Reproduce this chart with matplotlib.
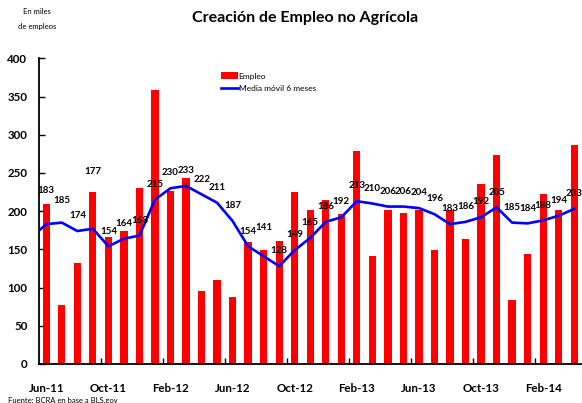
import numpy as np
import matplotlib
matplotlib.use("Agg")
import matplotlib.pyplot as plt

plt.rcParams['font.family'] = ['Lato', 'DejaVu Sans']

# meses Jun-11 .. Apr-14
meses = ['Jun-11', 'Jul-11', 'Aug-11', 'Sep-11', 'Oct-11', 'Nov-11', 'Dec-11', 'Jan-12',
         'Feb-12', 'Mar-12', 'Apr-12', 'May-12', 'Jun-12', 'Jul-12', 'Aug-12', 'Sep-12',
         'Oct-12', 'Nov-12', 'Dec-12', 'Jan-13', 'Feb-13', 'Mar-13', 'Apr-13', 'May-13',
         'Jun-13', 'Jul-13', 'Aug-13', 'Sep-13', 'Oct-13', 'Nov-13', 'Dec-13', 'Jan-14',
         'Feb-14', 'Mar-14', 'Apr-14']

empleo = [209, 77, 132, 225, 166, 174, 230, 359, 226, 243, 96, 110, 88, 159, 149, 161,
          225, 202, 214, 196, 279, 141, 202, 198, 201, 149, 201, 163, 236, 273, 84, 144,
          222, 202, 287]

# media movil 6 meses (primer valor = May-11, queda fuera del eje)
media_prev = 165
media = [183, 185, 174, 177, 154, 164, 168, 215, 230, 233, 222, 211, 187, 154, 141, 128,
         149, 165, 186, 192, 213, 210, 206, 206, 204, 196, 183, 186, 192, 205, 185, 184,
         188, 194, 203]

# etiquetas movidas a mano (puntos extra hacia arriba)
ajuste_etiqueta = {0: 13, 1: 5, 3: 30, 14: 10}

x = np.arange(len(meses))

fig = plt.figure(figsize=(5.82, 4.03), dpi=100)
ax = fig.add_axes([38.5 / 582, 1 - 364 / 403, 1 - 38.5 / 582, (364 - 58.3) / 403])

barras = ax.bar(x, empleo, width=0.47, color='#ff0000', label='Empleo', zorder=2)
x_media = np.concatenate([[-1], x])
linea, = ax.plot(x_media, [media_prev] + media, color='#0000ff', lw=1.9,
                 label='Media móvil 6 meses', zorder=3)

for i, v in enumerate(media):
    dy = 11 + ajuste_etiqueta.get(i, 0)
    ax.annotate(str(v), (i, v), xytext=(0, dy), textcoords='offset points',
                ha='center', va='center', fontsize=7, fontweight='bold', zorder=4)

ax.set_xlim(-0.5, len(meses) - 0.5)
ax.set_ylim(0, 400)
ax.set_yticks(np.arange(0, 401, 50))
ax.tick_params(axis='y', direction='in', length=4, width=1, labelsize=8.3, pad=8)
for t in ax.get_yticklabels():
    t.set_fontweight('bold')

# ticks entre grupos de 4 meses, etiquetas en el centro
ax.set_xticks(np.arange(3.5, len(meses), 4))
ax.set_xticklabels([])
ax.tick_params(axis='x', which='major', direction='in', length=4, width=1)
ax.set_xticks(np.arange(0, len(meses), 4), minor=True)
ax.set_xticklabels([meses[i] for i in range(0, len(meses), 4)], minor=True,
                   fontsize=8.3, fontweight='bold')
ax.tick_params(axis='x', which='minor', length=0, pad=14)

for s in ['top', 'right']:
    ax.spines[s].set_visible(False)
for s in ['left', 'bottom']:
    ax.spines[s].set_linewidth(1.3)

ax.legend([barras, linea], ['Empleo', 'Media móvil 6 meses'], loc='upper left',
          bbox_to_anchor=(0.33, 0.965), frameon=False, fontsize=6,
          handlelength=2.0, handleheight=0.9, handletextpad=0.1, labelspacing=0.6,
          borderaxespad=0)

fig.text(0.524, 0.955, 'Creación de Empleo no Agrícola', ha='center', va='center',
         fontsize=11.5, fontweight='bold')
fig.text(37 / 582, 1 - 12 / 403, 'En miles', ha='center', va='center', fontsize=5.5)
fig.text(37 / 582, 1 - 26 / 403, 'de empleos', ha='center', va='center', fontsize=5.5)
fig.text(8 / 582, 1 - 401 / 403, 'Fuente: BCRA en base a BLS.gov', ha='left', va='center',
         fontsize=5.5)

fig.savefig('out.png', dpi=100)
